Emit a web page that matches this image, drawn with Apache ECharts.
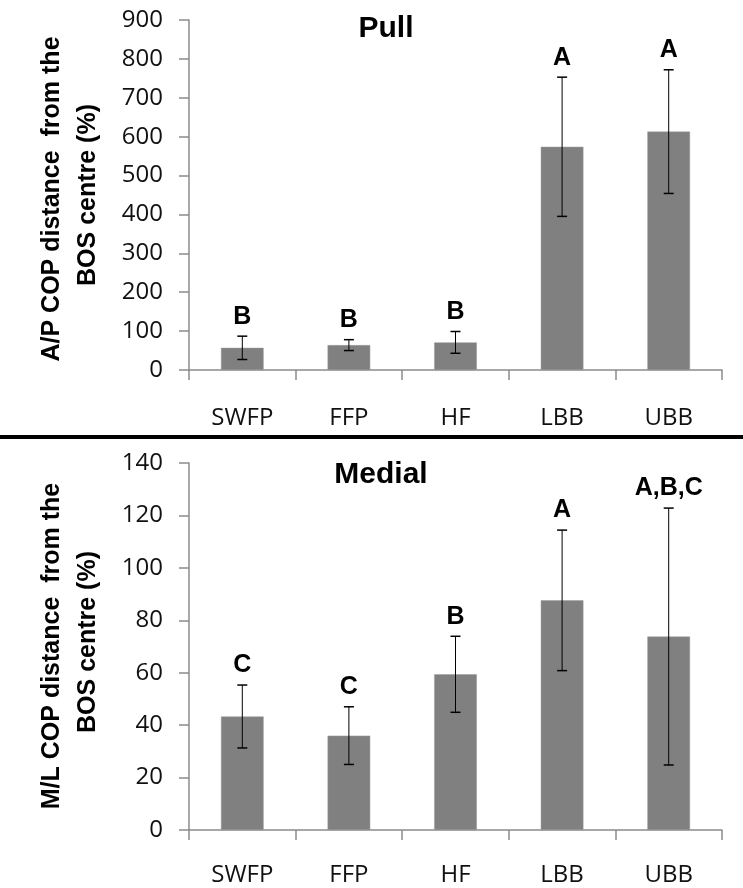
<!DOCTYPE html>
<html>
<head>
<meta charset="utf-8">
<script src="https://cdn.jsdelivr.net/npm/echarts@6/dist/echarts.min.js"></script>
<style>
html,body{margin:0;padding:0;background:#fff;}
#chart{width:743px;height:888px;}
</style>
</head>
<body>
<div id="chart"></div>
<script>
var categories = ['SWFP', 'FFP', 'HF', 'LBB', 'UBB'];
var pullMean = [57, 64, 71, 574, 613];
var pullErr = [30, 14, 28, 179, 159];
var pullLetters = ['B', 'B', 'B', 'A', 'A'];
var medialMean = [43.3, 36, 59.4, 87.6, 73.8];
var medialErr = [12, 11, 14.5, 26.8, 49];
var medialLetters = ['C', 'C', 'B', 'A', 'A,B,C'];
var pullTitle = 'Pull';
var medialTitle = 'Medial';
var pullAxisName = ['A/P COP distance  from the', 'BOS centre (%)'];
var medialAxisName = ['M/L COP distance  from the', 'BOS centre (%)'];

var tickFont = '"Open Sans", sans-serif';
var boldFont = '"Liberation Sans", Arial, sans-serif';

function errData(mean, err, letters) {
  return mean.map(function (m, i) { return [i, m, err[i], letters[i]]; });
}

function renderErr(params, api) {
  var i = api.value(0), m = api.value(1), e = api.value(2);
  var top = api.coord([i, m + e]);
  var bot = api.coord([i, m - e]);
  var letters = params.seriesIndex === 1 ? pullLetters : medialLetters;
  var half = 5;
  return {
    type: 'group',
    children: [
      {type: 'line', shape: {x1: top[0], y1: top[1], x2: bot[0], y2: bot[1]}, style: {stroke: '#000', lineWidth: 1}},
      {type: 'line', shape: {x1: top[0] - half, y1: top[1], x2: top[0] + half, y2: top[1]}, style: {stroke: '#000', lineWidth: 1.5}},
      {type: 'line', shape: {x1: bot[0] - half, y1: bot[1], x2: bot[0] + half, y2: bot[1]}, style: {stroke: '#000', lineWidth: 1.5}},
      {type: 'text', x: top[0], y: top[1] - 7, style: {text: letters[params.dataIndex], fill: '#000', font: 'bold 25px ' + boldFont, textAlign: 'center', textVerticalAlign: 'bottom'}}
    ]
  };
}

function xAx(gi, margin) {
  return {
    type: 'category', gridIndex: gi, data: categories, boundaryGap: true,
    axisLine: {lineStyle: {color: '#8c8c8c', width: 1.5}},
    axisTick: {show: true, alignWithLabel: false, length: 10, lineStyle: {color: '#8c8c8c', width: 1.5}},
    axisLabel: {margin: margin, color: '#111', fontSize: 24, fontFamily: tickFont},
    splitLine: {show: false}
  };
}
function yAx(gi, max, interval) {
  return {
    type: 'value', gridIndex: gi, min: 0, max: max, interval: interval,
    axisLine: {show: true, lineStyle: {color: '#8c8c8c', width: 1.5}},
    axisTick: {show: true, inside: false, length: 10, lineStyle: {color: '#8c8c8c', width: 1.5}},
    axisLabel: {margin: 26, color: '#111', fontSize: 24, fontFamily: tickFont},
    splitLine: {show: false}
  };
}
function nameText(txt, x, y) {
  return {type: 'text', x: x, y: y, rotation: Math.PI / 2,
    style: {text: txt, font: 'bold 25px ' + boldFont, fill: '#000', textAlign: 'center', textVerticalAlign: 'middle'}};
}

var chart = echarts.init(document.getElementById('chart'), null, {renderer: 'canvas'});
chart.setOption({
  animation: false,
  backgroundColor: '#fff',
  title: [
    {text: pullTitle, left: 381, top: 9, textAlign: 'center', textStyle: {fontSize: 30, fontWeight: 'bold', fontFamily: boldFont, color: '#000'}},
    {text: medialTitle, left: 376, top: 455, textAlign: 'center', textStyle: {fontSize: 30, fontWeight: 'bold', fontFamily: boldFont, color: '#000'}}
  ],
  graphic: [
    {type: 'rect', left: 0, top: 435, shape: {width: 743, height: 4}, style: {fill: '#000'}},
    nameText(pullAxisName[0], 52, 199),
    nameText(pullAxisName[1], 88, 195),
    nameText(medialAxisName[0], 52, 646),
    nameText(medialAxisName[1], 88, 642)
  ],
  grid: [
    {left: 189, width: 533, top: 20, height: 350},
    {left: 189, width: 533, top: 463, height: 367}
  ],
  xAxis: [xAx(0, 36), xAx(1, 33)],
  yAxis: [yAx(0, 900, 100), yAx(1, 140, 20)],
  series: [
    {type: 'bar', xAxisIndex: 0, yAxisIndex: 0, data: pullMean, barWidth: '40%', itemStyle: {color: '#808080', borderColor: '#9a9a9a', borderWidth: 0.5}, z: 2},
    {type: 'custom', xAxisIndex: 0, yAxisIndex: 0, data: errData(pullMean, pullErr, pullLetters), renderItem: renderErr, z: 5},
    {type: 'bar', xAxisIndex: 1, yAxisIndex: 1, data: medialMean, barWidth: '40%', itemStyle: {color: '#808080', borderColor: '#9a9a9a', borderWidth: 0.5}, z: 2},
    {type: 'custom', xAxisIndex: 1, yAxisIndex: 1, data: errData(medialMean, medialErr, medialLetters), renderItem: renderErr, z: 5}
  ]
});
</script>
</body>
</html>
